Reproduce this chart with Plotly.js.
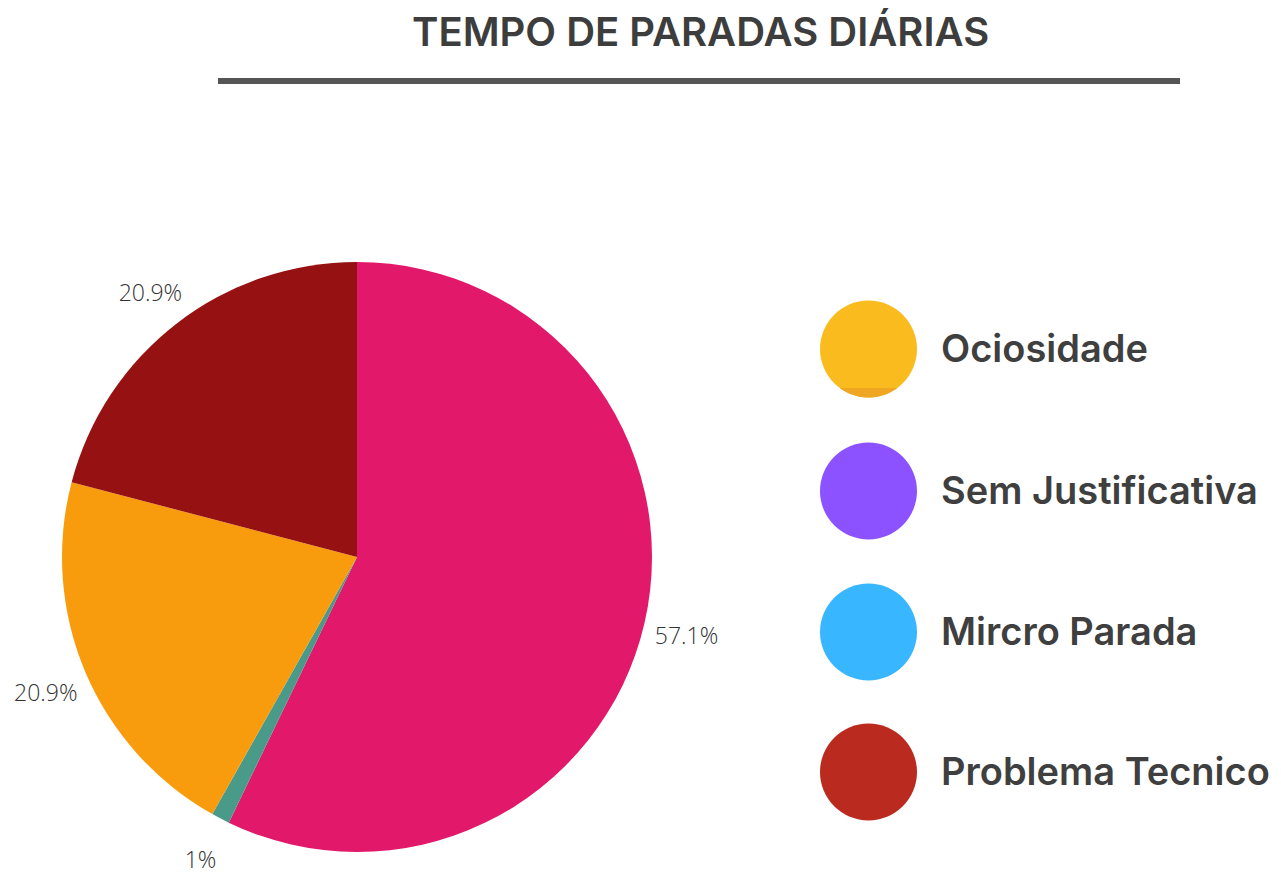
<!DOCTYPE html>
<html>
<head>
<meta charset="utf-8">
<script src="https://cdn.plot.ly/plotly-3.0.1.min.js"></script>
<style>html,body{margin:0;padding:0;background:#fff;}#chart{width:1281px;height:874px;}</style>
</head>
<body>
<div id="chart"></div>
<script>
// Pie data (clockwise from 12 o'clock)
const sliceNames = ["Problema Tecnico A", "Mircro Parada A", "Ociosidade A", "Problema Tecnico B"];
const sliceValues = [57.1, 1, 20.9, 20.9];
const sliceLabels = ["57.1%", "1%", "20.9%", "20.9%"];
const sliceColors = ["#E2196A", "#4A9A8A", "#F89C0E", "#961212"];

// Legend items as drawn in the reference
const legendLabels = ["Ociosidade", "Sem Justificativa", "Mircro Parada", "Problema Tecnico"];
const legendColors = ["#F9BB1E", "#8C52FF", "#38B6FF", "#BA2A1F"];

const titleText = "TEMPO DE PARADAS DIÁRIAS";

const W = 1281, H = 874;
const px = x => x / W;
const py = y => 1 - y / H;
const CX = 357, CY = 557, R = 295;
const LABEL_R = 1.146;   // label distance, in pie radii
const LABEL_DROP = 6;    // px, text baseline adjustment

const pieDomain = { x: [px(CX - R), px(CX + R)], y: [py(CY + R), py(CY - R)] };

const pieTrace = {
  type: "pie",
  labels: sliceNames,
  values: sliceValues,
  textinfo: "none",
  sort: false,
  direction: "clockwise",
  rotation: 0,
  marker: { colors: sliceColors, line: { width: 0 } },
  showlegend: false,
  hoverinfo: "none",
  automargin: false,
  domain: pieDomain
};

// slice mid-angles (clockwise from 12 o'clock) derived from the values
const total = sliceValues.reduce((a, b) => a + b, 0);
let acc = 0;
const midAngles = sliceValues.map(v => { const m = (acc + v / 2) / total * 2 * Math.PI; acc += v; return m; });

// label trace on a hidden cartesian frame measured in pie radii, centred on the pie
const labelTrace = {
  type: "scatter",
  mode: "text",
  x: midAngles.map(a => LABEL_R * Math.sin(a)),
  y: midAngles.map(a => LABEL_R * Math.cos(a)),
  text: sliceLabels,
  textposition: "middle center",
  textfont: { family: "Open Sans", size: 23, weight: 300, color: "#333333" },
  cliponaxis: false,
  showlegend: false,
  hoverinfo: "none"
};

const shapes = [
  { type: "line", xref: "paper", yref: "paper", x0: px(218), x1: px(1180), y0: py(81), y1: py(81),
    line: { color: "#555555", width: 6 } }
];
const annotations = [
  { xref: "paper", yref: "paper", x: px(700), y: py(31), text: titleText, showarrow: false,
    xanchor: "center", yanchor: "middle", font: { family: "Inter", size: 40, weight: 600, color: "#3d3d3d" } }
];
const legendY = [349, 491, 632, 772];
const LR = 48.5, LCX = 868.5;
legendLabels.forEach((lab, i) => {
  const cy = legendY[i];
  shapes.push({ type: "circle", xref: "paper", yref: "paper",
    x0: px(LCX - LR), x1: px(LCX + LR), y0: py(cy + LR), y1: py(cy - LR),
    fillcolor: legendColors[i], line: { width: 0 } });
  annotations.push({ xref: "paper", yref: "paper", x: px(939), y: py(cy - 1), text: lab,
    showarrow: false, xanchor: "left", yanchor: "middle",
    font: { family: "Inter", size: 38, weight: 600, color: "#3f3f3f" } });
});
// slightly darker band at the bottom of the first legend circle (as in the reference)
(function () {
  const cy = legendY[0], yCut = cy + 39;
  const pts = [];
  const a0 = Math.asin((yCut - cy) / LR);
  for (let k = 0; k <= 24; k++) {
    const a = a0 + (Math.PI - 2 * a0) * k / 24;
    pts.push([LCX + LR * Math.cos(a), cy + LR * Math.sin(a)]);
  }
  const d = "M " + pts.map(p => px(p[0]) + "," + py(p[1])).join(" L ") + " Z";
  shapes.push({ type: "path", xref: "paper", yref: "paper", path: d, fillcolor: "#EFA623", line: { width: 0 } });
})();

const hiddenAxis = { visible: false, showgrid: false, zeroline: false, fixedrange: true };
const CYL = CY + LABEL_DROP;
const layout = {
  width: W, height: H,
  margin: { l: 0, r: 0, t: 0, b: 0 },
  paper_bgcolor: "#ffffff",
  plot_bgcolor: "rgba(0,0,0,0)",
  xaxis: Object.assign({ domain: [0, 1], range: [-CX / R, (W - CX) / R] }, hiddenAxis),
  yaxis: Object.assign({ domain: [0, 1], range: [-(H - CYL) / R, CYL / R] }, hiddenAxis),
  shapes: shapes,
  annotations: annotations,
  showlegend: false
};

Plotly.newPlot("chart", [pieTrace, labelTrace], layout, { displayModeBar: false, staticPlot: true });
</script>
</body>
</html>
